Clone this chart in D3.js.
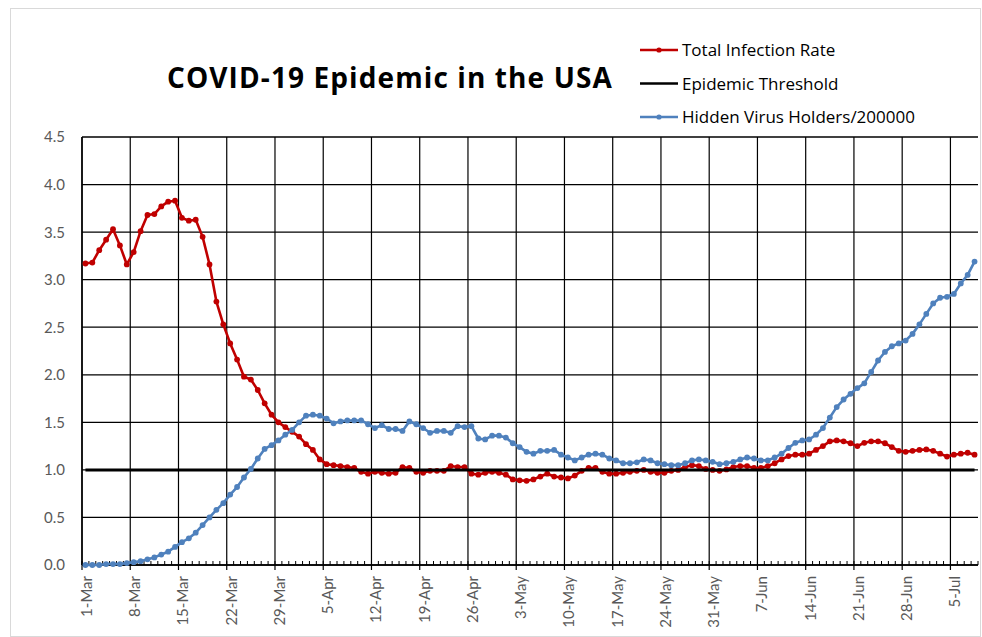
<!DOCTYPE html>
<html>
<head>
<meta charset="utf-8">
<script src="https://cdn.jsdelivr.net/npm/d3@7"></script>
<style>
  body { margin: 0; background: #fff; }
  svg { display: block; font-family: Lato, "Open Sans", sans-serif; }
</style>
</head>
<body>
<svg id="chart" width="982" height="637"></svg>
<script>
// data: one value per day, starting 1-Mar (130 days)
var weekLabels = ["1-Mar", "8-Mar", "15-Mar", "22-Mar", "29-Mar", "5-Apr", "12-Apr", "19-Apr", "26-Apr",
  "3-May", "10-May", "17-May", "24-May", "31-May", "7-Jun", "14-Jun", "21-Jun", "28-Jun", "5-Jul"]

var infectionRate = [
  3.17, 3.18, 3.31, 3.42, 3.53, 3.36, 3.16, 3.29, 3.51, 3.68,
  3.69, 3.77, 3.82, 3.83, 3.65, 3.62, 3.63, 3.45, 3.16, 2.77,
  2.53, 2.33, 2.16, 1.98, 1.95, 1.84, 1.70, 1.58, 1.50, 1.45,
  1.40, 1.35, 1.27, 1.21, 1.11, 1.06, 1.05, 1.04, 1.03, 1.02,
  0.98, 0.96, 0.98, 0.97, 0.96, 0.97, 1.03, 1.02, 0.98, 0.97,
  0.99, 0.99, 0.99, 1.04, 1.03, 1.03, 0.96, 0.95, 0.97, 0.98,
  0.97, 0.95, 0.90, 0.89, 0.885, 0.90, 0.93, 0.96, 0.93, 0.92,
  0.91, 0.94, 0.99, 1.02, 1.02, 0.98, 0.96, 0.96, 0.97, 0.98,
  0.99, 1.00, 0.98, 0.97, 0.97, 0.99, 1.00, 1.03, 1.05, 1.04,
  1.01, 1.00, 0.99, 1.005, 1.03, 1.04, 1.04, 1.02, 1.02, 1.04,
  1.07, 1.11, 1.145, 1.16, 1.16, 1.17, 1.21, 1.25, 1.30, 1.31,
  1.30, 1.28, 1.25, 1.285, 1.30, 1.30, 1.28, 1.24, 1.20, 1.19,
  1.20, 1.21, 1.215, 1.20, 1.17, 1.14, 1.16, 1.17, 1.18, 1.16
]

var hiddenHolders = [
  0.00, 0.00, 0.00, 0.01, 0.01, 0.01, 0.02, 0.03, 0.04, 0.06,
  0.08, 0.11, 0.14, 0.19, 0.24, 0.28, 0.34, 0.42, 0.50, 0.58,
  0.65, 0.74, 0.82, 0.92, 1.01, 1.12, 1.22, 1.26, 1.31, 1.37,
  1.42, 1.50, 1.57, 1.58, 1.57, 1.54, 1.49, 1.51, 1.52, 1.52,
  1.52, 1.48, 1.44, 1.47, 1.43, 1.43, 1.41, 1.51, 1.48, 1.44,
  1.39, 1.41, 1.41, 1.39, 1.46, 1.45, 1.46, 1.33, 1.32, 1.36,
  1.36, 1.34, 1.28, 1.24, 1.19, 1.17, 1.20, 1.20, 1.21, 1.16,
  1.13, 1.10, 1.13, 1.16, 1.17, 1.16, 1.12, 1.10, 1.07, 1.07,
  1.08, 1.11, 1.10, 1.07, 1.06, 1.05, 1.05, 1.07, 1.10, 1.11,
  1.10, 1.085, 1.06, 1.07, 1.085, 1.11, 1.13, 1.12, 1.10, 1.10,
  1.13, 1.17, 1.23, 1.285, 1.31, 1.32, 1.37, 1.44, 1.55, 1.66,
  1.74, 1.80, 1.86, 1.91, 2.03, 2.15, 2.24, 2.30, 2.33, 2.36,
  2.43, 2.53, 2.64, 2.75, 2.81, 2.82, 2.85, 2.96, 3.05, 3.19
]

var threshold = 1.0
var yTicks = [0, 0.5, 1, 1.5, 2, 2.5, 3, 3.5, 4, 4.5]

var svg = d3.select("#chart"),
	margin = {top: 137, left: 82, bottom: 72, right: 4},
	width = +svg.attr("width"),
	height = +svg.attr("height");

var nDays = infectionRate.length

var x = d3.scaleLinear()
	.domain([0, nDays])
	.range([margin.left, width - margin.right])

var y = d3.scaleLinear()
	.domain([0, 4.5])
	.range([height - margin.bottom, margin.top])

// chart area frame
svg.append("rect")
	.attr("x", 10.5).attr("y", 8.5)
	.attr("width", width - 12).attr("height", height - 9)
	.attr("fill", "none")
	.attr("stroke", "#d9d9d9")

// horizontal gridlines
svg.append("g")
	.selectAll("line")
	.data(yTicks)
.enter().append("line")
	.attr("x1", x(0)).attr("x2", x(nDays))
	.attr("y1", d => y(d)).attr("y2", d => y(d))
	.attr("stroke", "#000")
	.attr("stroke-width", 1.3)

// vertical gridlines every week
var weekDays = weekLabels.map((d, i) => i * 7)

svg.append("g")
	.selectAll("line")
	.data(weekDays)
.enter().append("line")
	.attr("x1", d => x(d)).attr("x2", d => x(d))
	.attr("y1", y(4.5)).attr("y2", y(0) + 5)
	.attr("stroke", "#000")
	.attr("stroke-width", 1.2)

// minor day ticks on the x axis
svg.append("g")
	.selectAll("line")
	.data(d3.range(nDays + 1))
.enter().append("line")
	.attr("x1", d => x(d)).attr("x2", d => x(d))
	.attr("y1", y(0) - 4).attr("y2", y(0))
	.attr("stroke", "#000")
	.attr("stroke-width", 1)

// axis lines
svg.append("line")
	.attr("x1", x(0)).attr("x2", x(nDays))
	.attr("y1", y(0)).attr("y2", y(0))
	.attr("stroke", "#000").attr("stroke-width", 1.5)

svg.append("line")
	.attr("x1", x(0)).attr("x2", x(0))
	.attr("y1", y(4.5)).attr("y2", y(0))
	.attr("stroke", "#000").attr("stroke-width", 1.5)

// y tick labels
svg.append("g")
	.selectAll("text")
	.data(yTicks)
.enter().append("text")
	.attr("x", x(0) - 17)
	.attr("y", d => y(d))
	.attr("dy", "0.36em")
	.attr("text-anchor", "end")
	.attr("fill", "#595959")
	.style("font-size", "15px")
	.text(d3.format(".1f"))

// x tick labels (rotated)
svg.append("g")
	.selectAll("text")
	.data(weekLabels)
.enter().append("text")
	.attr("transform", (d, i) => `translate(${x(i * 7 + 0.5) + 1},${y(0) + 11}) rotate(-90)`)
	.attr("dy", "0.36em")
	.attr("text-anchor", "end")
	.attr("fill", "#595959")
	.style("font-size", "15px")
	.text(d => d)

var line = d3.line()
	.x((d, i) => x(i + 0.5))
	.y(d => y(d))

var series = [
	{name: "Total Infection Rate", values: infectionRate, color: "#c00000", markers: true},
	{name: "Epidemic Threshold", values: infectionRate.map(() => threshold), color: "#000000", markers: false},
	{name: "Hidden Virus Holders/200000", values: hiddenHolders, color: "#4f81bd", markers: true}
]

series.forEach(function(s) {
	var g = svg.append("g")
	g.append("path")
		.datum(s.values)
		.attr("fill", "none")
		.attr("stroke", s.color)
		.attr("stroke-width", s.markers ? 2.6 : 3)
		.attr("stroke-linejoin", "round")
		.attr("d", line)
	if (s.markers) {
		g.selectAll("circle")
			.data(s.values)
		.enter().append("circle")
			.attr("cx", (d, i) => x(i + 0.5))
			.attr("cy", d => y(d))
			.attr("r", 2.9)
			.attr("fill", s.color)
	}
})

// title
svg.append("text")
	.attr("x", 167)
	.attr("y", 88)
	.style("font-family", "'Open Sans', sans-serif")
	.style("font-size", "28px")
	.style("font-weight", "bold")
	.style("letter-spacing", "1.1px")
	.attr("fill", "#000")
	.text("COVID-19 Epidemic in the USA")

// legend
var legend = svg.append("g")
	.selectAll("g")
	.data(series)
.enter().append("g")
	.attr("transform", (d, i) => `translate(640,${50 + i * 33.5})`)

legend.append("line")
	.attr("x1", 0).attr("x2", 38)
	.attr("stroke", d => d.color)
	.attr("stroke-width", 2.6)

legend.filter(d => d.markers).append("circle")
	.attr("cx", 19)
	.attr("r", 2.6)
	.attr("fill", d => d.color)

legend.append("text")
	.attr("x", 42)
	.attr("dy", "0.36em")
	.style("font-family", "'Open Sans', sans-serif")
	.style("font-size", "17px")
	.attr("fill", "#000")
	.text(d => d.name)
</script>
</body>
</html>
